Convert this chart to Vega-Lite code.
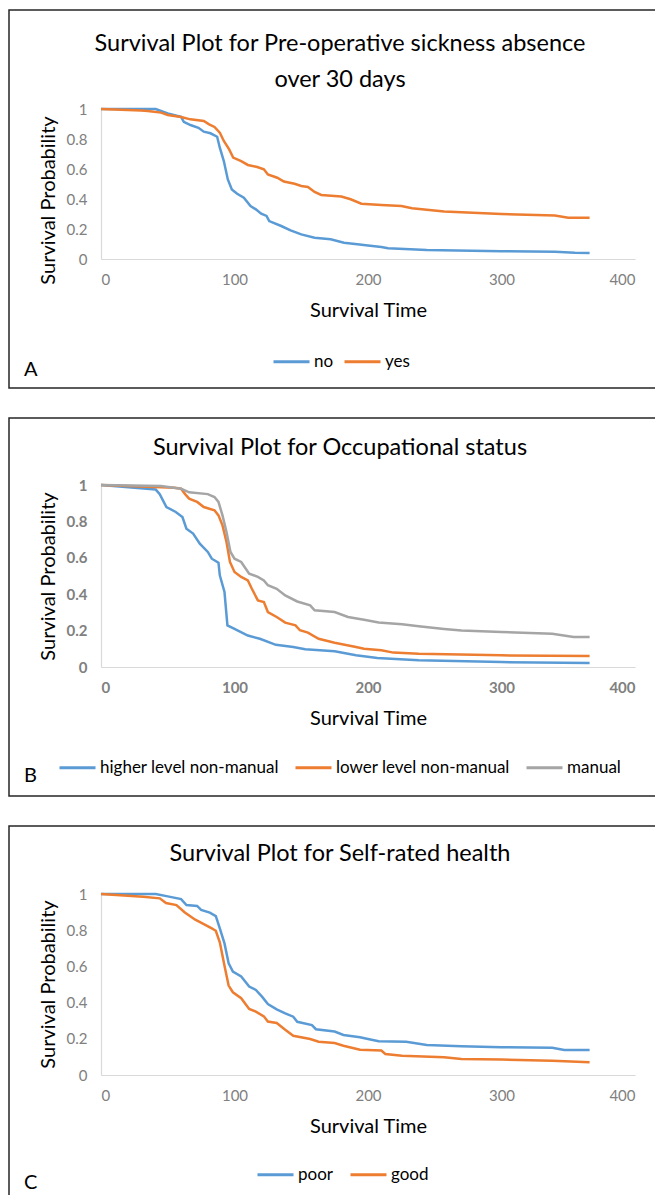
{
  "$schema": "https://vega.github.io/schema/vega-lite/v6.json",
  "padding": {"left": 8, "top": 9, "right": 0, "bottom": 0},
  "background": "white",
  "spacing": 28,
  "datasets": {
    "A": [
      {"g":"no","t":0,"p":1},{"g":"no","t":41,"p":1},{"g":"no","t":50,"p":0.97},{"g":"no","t":60,"p":0.947},{"g":"no","t":62,"p":0.915},{"g":"no","t":67,"p":0.893},{"g":"no","t":73,"p":0.875},{"g":"no","t":77,"p":0.849},{"g":"no","t":82,"p":0.838},{"g":"no","t":87,"p":0.815},{"g":"no","t":89,"p":0.742},{"g":"no","t":92,"p":0.653},{"g":"no","t":95,"p":0.53},{"g":"no","t":98,"p":0.464},{"g":"no","t":102,"p":0.435},{"g":"no","t":107,"p":0.409},{"g":"no","t":112,"p":0.353},{"g":"no","t":116,"p":0.331},{"g":"no","t":120,"p":0.302},{"g":"no","t":124,"p":0.287},{"g":"no","t":126,"p":0.253},{"g":"no","t":135,"p":0.22},{"g":"no","t":142,"p":0.191},{"g":"no","t":150,"p":0.164},{"g":"no","t":160,"p":0.142},{"g":"no","t":172,"p":0.131},{"g":"no","t":182,"p":0.109},{"g":"no","t":192,"p":0.098},{"g":"no","t":200,"p":0.09},{"g":"no","t":210,"p":0.08},{"g":"no","t":215,"p":0.072},{"g":"no","t":244,"p":0.06},{"g":"no","t":300,"p":0.052},{"g":"no","t":340,"p":0.048},{"g":"no","t":355,"p":0.042},{"g":"no","t":366,"p":0.04},
      {"g":"yes","t":0,"p":1},{"g":"yes","t":30,"p":0.99},{"g":"yes","t":35,"p":0.987},{"g":"yes","t":45,"p":0.976},{"g":"yes","t":50,"p":0.96},{"g":"yes","t":60,"p":0.947},{"g":"yes","t":67,"p":0.931},{"g":"yes","t":77,"p":0.92},{"g":"yes","t":81,"p":0.898},{"g":"yes","t":85,"p":0.88},{"g":"yes","t":89,"p":0.842},{"g":"yes","t":92,"p":0.787},{"g":"yes","t":96,"p":0.731},{"g":"yes","t":99,"p":0.676},{"g":"yes","t":105,"p":0.653},{"g":"yes","t":110,"p":0.627},{"g":"yes","t":117,"p":0.613},{"g":"yes","t":122,"p":0.598},{"g":"yes","t":125,"p":0.564},{"g":"yes","t":132,"p":0.542},{"g":"yes","t":137,"p":0.516},{"g":"yes","t":145,"p":0.502},{"g":"yes","t":150,"p":0.487},{"g":"yes","t":155,"p":0.48},{"g":"yes","t":160,"p":0.447},{"g":"yes","t":165,"p":0.427},{"g":"yes","t":180,"p":0.416},{"g":"yes","t":187,"p":0.398},{"g":"yes","t":195,"p":0.369},{"g":"yes","t":210,"p":0.36},{"g":"yes","t":225,"p":0.353},{"g":"yes","t":233,"p":0.338},{"g":"yes","t":257,"p":0.316},{"g":"yes","t":300,"p":0.3},{"g":"yes","t":340,"p":0.29},{"g":"yes","t":350,"p":0.275},{"g":"yes","t":366,"p":0.275}
    ],
    "B": [
      {"g":"higher level non-manual","t":0,"p":1},{"g":"higher level non-manual","t":41,"p":0.975},{"g":"higher level non-manual","t":44,"p":0.95},{"g":"higher level non-manual","t":49,"p":0.879},{"g":"higher level non-manual","t":56,"p":0.852},{"g":"higher level non-manual","t":61,"p":0.824},{"g":"higher level non-manual","t":64,"p":0.76},{"g":"higher level non-manual","t":69,"p":0.733},{"g":"higher level non-manual","t":74,"p":0.678},{"g":"higher level non-manual","t":80,"p":0.632},{"g":"higher level non-manual","t":83,"p":0.595},{"g":"higher level non-manual","t":88,"p":0.573},{"g":"higher level non-manual","t":89,"p":0.504},{"g":"higher level non-manual","t":92.5,"p":0.412},{"g":"higher level non-manual","t":94.7,"p":0.229},{"g":"higher level non-manual","t":100,"p":0.21},{"g":"higher level non-manual","t":110,"p":0.173},{"g":"higher level non-manual","t":119,"p":0.155},{"g":"higher level non-manual","t":131,"p":0.122},{"g":"higher level non-manual","t":144,"p":0.11},{"g":"higher level non-manual","t":153,"p":0.097},{"g":"higher level non-manual","t":175,"p":0.086},{"g":"higher level non-manual","t":191,"p":0.064},{"g":"higher level non-manual","t":207,"p":0.049},{"g":"higher level non-manual","t":238,"p":0.037},{"g":"higher level non-manual","t":300,"p":0.027},{"g":"higher level non-manual","t":366,"p":0.022},
      {"g":"lower level non-manual","t":0,"p":1},{"g":"lower level non-manual","t":55,"p":0.985},{"g":"lower level non-manual","t":60,"p":0.98},{"g":"lower level non-manual","t":63,"p":0.95},{"g":"lower level non-manual","t":66,"p":0.925},{"g":"lower level non-manual","t":72,"p":0.907},{"g":"lower level non-manual","t":77,"p":0.879},{"g":"lower level non-manual","t":85,"p":0.861},{"g":"lower level non-manual","t":88,"p":0.833},{"g":"lower level non-manual","t":91,"p":0.778},{"g":"lower level non-manual","t":94,"p":0.687},{"g":"lower level non-manual","t":96.6,"p":0.577},{"g":"lower level non-manual","t":100,"p":0.522},{"g":"lower level non-manual","t":105,"p":0.495},{"g":"lower level non-manual","t":110,"p":0.476},{"g":"lower level non-manual","t":113,"p":0.43},{"g":"lower level non-manual","t":117.5,"p":0.366},{"g":"lower level non-manual","t":122,"p":0.357},{"g":"lower level non-manual","t":125,"p":0.302},{"g":"lower level non-manual","t":131.6,"p":0.275},{"g":"lower level non-manual","t":138,"p":0.244},{"g":"lower level non-manual","t":145.7,"p":0.229},{"g":"lower level non-manual","t":149,"p":0.202},{"g":"lower level non-manual","t":155,"p":0.189},{"g":"lower level non-manual","t":163,"p":0.155},{"g":"lower level non-manual","t":175,"p":0.133},{"g":"lower level non-manual","t":191,"p":0.11},{"g":"lower level non-manual","t":197,"p":0.1},{"g":"lower level non-manual","t":210,"p":0.092},{"g":"lower level non-manual","t":219,"p":0.079},{"g":"lower level non-manual","t":238,"p":0.073},{"g":"lower level non-manual","t":300,"p":0.064},{"g":"lower level non-manual","t":366,"p":0.06},
      {"g":"manual","t":0,"p":1},{"g":"manual","t":45,"p":0.995},{"g":"manual","t":60,"p":0.98},{"g":"manual","t":66,"p":0.96},{"g":"manual","t":80,"p":0.95},{"g":"manual","t":85,"p":0.934},{"g":"manual","t":88,"p":0.907},{"g":"manual","t":91,"p":0.833},{"g":"manual","t":94,"p":0.742},{"g":"manual","t":97,"p":0.632},{"g":"manual","t":100,"p":0.595},{"g":"manual","t":105,"p":0.577},{"g":"manual","t":111,"p":0.513},{"g":"manual","t":117.5,"p":0.495},{"g":"manual","t":122,"p":0.476},{"g":"manual","t":125,"p":0.449},{"g":"manual","t":131.6,"p":0.43},{"g":"manual","t":138,"p":0.393},{"g":"manual","t":147,"p":0.36},{"g":"manual","t":156.7,"p":0.339},{"g":"manual","t":160,"p":0.312},{"g":"manual","t":175,"p":0.302},{"g":"manual","t":185,"p":0.275},{"g":"manual","t":197,"p":0.26},{"g":"manual","t":208,"p":0.244},{"g":"manual","t":225.5,"p":0.235},{"g":"manual","t":238,"p":0.224},{"g":"manual","t":257,"p":0.209},{"g":"manual","t":270,"p":0.2},{"g":"manual","t":300,"p":0.192},{"g":"manual","t":338,"p":0.183},{"g":"manual","t":354,"p":0.165},{"g":"manual","t":366,"p":0.165}
    ],
    "C": [
      {"g":"poor","t":0,"p":1},{"g":"poor","t":41,"p":1},{"g":"poor","t":50,"p":0.987},{"g":"poor","t":60,"p":0.972},{"g":"poor","t":64,"p":0.939},{"g":"poor","t":72,"p":0.934},{"g":"poor","t":75,"p":0.912},{"g":"poor","t":81.5,"p":0.897},{"g":"poor","t":86,"p":0.878},{"g":"poor","t":89,"p":0.81},{"g":"poor","t":92.5,"p":0.727},{"g":"poor","t":95.6,"p":0.617},{"g":"poor","t":98.8,"p":0.571},{"g":"poor","t":105,"p":0.544},{"g":"poor","t":111,"p":0.489},{"g":"poor","t":116,"p":0.47},{"g":"poor","t":120.6,"p":0.433},{"g":"poor","t":125,"p":0.392},{"g":"poor","t":131.6,"p":0.363},{"g":"poor","t":138,"p":0.341},{"g":"poor","t":144,"p":0.322},{"g":"poor","t":147,"p":0.294},{"g":"poor","t":158,"p":0.276},{"g":"poor","t":161,"p":0.253},{"g":"poor","t":175,"p":0.24},{"g":"poor","t":181.6,"p":0.221},{"g":"poor","t":194,"p":0.209},{"g":"poor","t":200,"p":0.199},{"g":"poor","t":208,"p":0.186},{"g":"poor","t":228.6,"p":0.184},{"g":"poor","t":244,"p":0.166},{"g":"poor","t":270,"p":0.159},{"g":"poor","t":300,"p":0.154},{"g":"poor","t":338,"p":0.15},{"g":"poor","t":347,"p":0.138},{"g":"poor","t":366,"p":0.138},
      {"g":"good","t":0,"p":1},{"g":"good","t":31.5,"p":0.985},{"g":"good","t":44,"p":0.976},{"g":"good","t":48.7,"p":0.95},{"g":"good","t":56.5,"p":0.939},{"g":"good","t":62.8,"p":0.898},{"g":"good","t":70.6,"p":0.858},{"g":"good","t":77,"p":0.834},{"g":"good","t":83,"p":0.81},{"g":"good","t":86,"p":0.797},{"g":"good","t":89,"p":0.733},{"g":"good","t":92.5,"p":0.604},{"g":"good","t":95.6,"p":0.494},{"g":"good","t":98.8,"p":0.457},{"g":"good","t":105,"p":0.424},{"g":"good","t":111,"p":0.365},{"g":"good","t":116,"p":0.35},{"g":"good","t":122,"p":0.324},{"g":"good","t":125,"p":0.295},{"g":"good","t":131.6,"p":0.287},{"g":"good","t":138,"p":0.25},{"g":"good","t":144,"p":0.217},{"g":"good","t":156.7,"p":0.199},{"g":"good","t":163,"p":0.184},{"g":"good","t":175,"p":0.177},{"g":"good","t":181.6,"p":0.162},{"g":"good","t":194,"p":0.14},{"g":"good","t":210,"p":0.135},{"g":"good","t":213,"p":0.116},{"g":"good","t":225.5,"p":0.107},{"g":"good","t":257,"p":0.098},{"g":"good","t":270,"p":0.088},{"g":"good","t":300,"p":0.085},{"g":"good","t":338,"p":0.079},{"g":"good","t":366,"p":0.07}
    ]
  },
  "vconcat": [
    {
      "width": 662, "height": 378,
      "data": {"name": "A"},
      "title": {"text": ["Survival Plot for Pre-operative sickness absence", "over 30 days"], "offset": -100, "baseline": "alphabetic", "lineHeight": 36},
      "mark": {"type": "line", "strokeWidth": 2.5},
      "encoding": {
        "x": {"field": "t", "type": "quantitative", "scale": {"domain": [0, 400], "range": [92, 626], "nice": false, "zero": false},
              "axis": {"title": "Survival Time", "values": [0, 100, 200, 300, 400], "offset": -129, "labelPadding": 13, "titleY": 51, "titleBaseline": "middle"}},
        "y": {"field": "p", "type": "quantitative", "scale": {"domain": [0, 1], "range": [249, 99], "nice": false},
              "axis": {"title": "Survival Probability", "values": [0, 0.2, 0.4, 0.6, 0.8, 1], "format": "~g", "offset": -92, "labelPadding": 14, "titleX": -53, "titleY": 190, "titleBaseline": "middle"}},
        "color": {"field": "g", "type": "nominal", "scale": {"domain": ["no", "yes"], "range": ["#5B9BD5", "#ED7D31"]},
                  "legend": {"title": "A", "orient": "none", "legendX": 15, "legendY": 332, "direction": "horizontal", "titleOrient": "left", "titleAnchor": "end", "titleBaseline": "middle", "titlePadding": 234, "columnPadding": 4}}
      }
    },
    {
      "width": 662, "height": 378,
      "data": {"name": "B"},
      "title": {"text": "Survival Plot for Occupational status", "offset": -60, "baseline": "alphabetic"},
      "mark": {"type": "line", "strokeWidth": 2.5},
      "encoding": {
        "x": {"field": "t", "type": "quantitative", "scale": {"domain": [0, 400], "range": [92, 626], "nice": false, "zero": false},
              "axis": {"title": "Survival Time", "values": [0, 100, 200, 300, 400], "offset": -129, "labelPadding": 13, "titleY": 51, "titleBaseline": "middle", "labelFontWeight": "bold"}},
        "y": {"field": "p", "type": "quantitative", "scale": {"domain": [0, 1], "range": [249, 67], "nice": false},
              "axis": {"title": "Survival Probability", "values": [0, 0.2, 0.4, 0.6, 0.8, 1], "format": "~g", "offset": -92, "labelPadding": 14, "titleX": -53, "titleY": 158, "titleBaseline": "middle", "labelFontWeight": "bold"}},
        "color": {"field": "g", "type": "nominal", "scale": {"domain": ["higher level non-manual", "lower level non-manual", "manual"], "range": ["#5B9BD5", "#ED7D31", "#A5A5A5"]},
                  "legend": {"title": "B", "orient": "none", "legendX": 15, "legendY": 330, "direction": "horizontal", "titleOrient": "left", "titleAnchor": "end", "titleBaseline": "middle", "titlePadding": 21, "columnPadding": 10}}
      }
    },
    {
      "width": 662, "height": 378,
      "data": {"name": "C"},
      "title": {"text": "Survival Plot for Self-rated health", "offset": -58, "baseline": "alphabetic"},
      "mark": {"type": "line", "strokeWidth": 2.5},
      "encoding": {
        "x": {"field": "t", "type": "quantitative", "scale": {"domain": [0, 400], "range": [92, 626], "nice": false, "zero": false},
              "axis": {"title": "Survival Time", "values": [0, 100, 200, 300, 400], "offset": -129, "labelPadding": 13, "titleY": 51, "titleBaseline": "middle"}},
        "y": {"field": "p", "type": "quantitative", "scale": {"domain": [0, 1], "range": [249, 68], "nice": false},
              "axis": {"title": "Survival Probability", "values": [0, 0.2, 0.4, 0.6, 0.8, 1], "format": "~g", "offset": -92, "labelPadding": 14, "titleX": -53, "titleY": 158, "titleBaseline": "middle"}},
        "color": {"field": "g", "type": "nominal", "scale": {"domain": ["poor", "good"], "range": ["#5B9BD5", "#ED7D31"]},
                  "legend": {"title": "C", "orient": "none", "legendX": 15, "legendY": 329, "direction": "horizontal", "titleOrient": "left", "titleAnchor": "end", "titleBaseline": "middle", "titlePadding": 218, "columnPadding": 11}}
      }
    }
  ],
  "resolve": {"scale": {"color": "independent", "x": "independent", "y": "independent"}, "legend": {"color": "independent"}},
  "config": {
    "font": "Lato",
    "view": {"stroke": "#262626", "strokeWidth": 1.5},
    "title": {"font": "Lato", "fontSize": 23.5, "fontWeight": "normal", "color": "#000000", "anchor": "middle", "frame": "group"},
    "axis": {"grid": false, "ticks": false, "tickSize": 0, "domainColor": "#D9D9D9", "domainWidth": 1.2, "labelColor": "#808080", "labelFont": "Lato", "labelFontSize": 15, "titleFont": "Lato", "titleFontSize": 20, "titleFontWeight": "normal", "titleColor": "#000000"},
    "legend": {"symbolType": "stroke", "symbolSize": 1296, "symbolStrokeWidth": 3, "labelFont": "Lato", "labelFontSize": 17, "labelColor": "#000000", "labelOffset": 3, "columnPadding": 18, "titleFont": "Lato", "titleFontSize": 20, "titleFontWeight": "normal", "titleColor": "#000000", "padding": 0, "labelLimit": 400}
  }
}
